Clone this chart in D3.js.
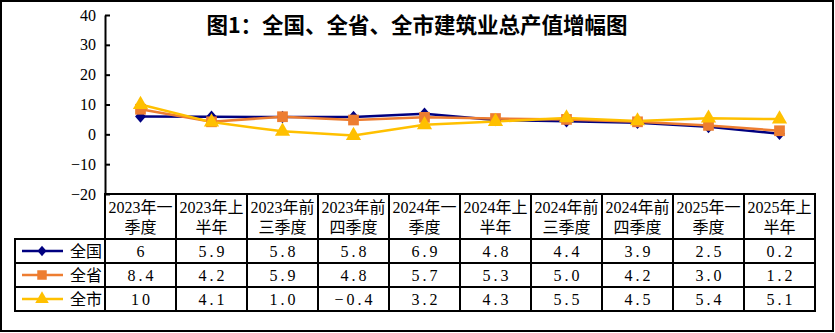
<!DOCTYPE html>
<html><head><meta charset="utf-8">
<script src="https://cdn.jsdelivr.net/npm/d3@7"></script>
<style>
html,body{margin:0;padding:0;background:#fff;}
svg{display:block;}
</style></head>
<body>
<svg id="chart" width="835" height="333"></svg>
<script>
const categories = ["2023年一季度","2023年上半年","2023年前三季度","2023年前四季度","2024年一季度","2024年上半年","2024年前三季度","2024年前四季度","2025年一季度","2025年上半年"];
const headerLine1 = ["2023年一","2023年上","2023年前","2023年前","2024年一","2024年上","2024年前","2024年前","2025年一","2025年上"];
const headerLine2 = ["季度","半年","三季度","四季度","季度","半年","三季度","四季度","季度","半年"];
const seriesNames = ["全国","全省","全市"];
const quanguo = [6, 5.9, 5.8, 5.8, 6.9, 4.8, 4.4, 3.9, 2.5, 0.2];
const quansheng = [8.4, 4.2, 5.9, 4.8, 5.7, 5.3, 5.0, 4.2, 3.0, 1.2];
const quanshi = [10, 4.1, 1.0, -0.4, 3.2, 4.3, 5.5, 4.5, 5.4, 5.1];
const tableText = [
  ["6","5.9","5.8","5.8","6.9","4.8","4.4","3.9","2.5","0.2"],
  ["8.4","4.2","5.9","4.8","5.7","5.3","5.0","4.2","3.0","1.2"],
  ["10","4.1","1.0","-0.4","3.2","4.3","5.5","4.5","5.4","5.1"]
];
const yTicks = [-20, -10, 0, 10, 20, 30, 40];
const title = "图1：全国、全省、全市建筑业总产值增幅图";

const colors = ["#000080", "#ED7D31", "#FFC000"];
// custom diamond, close to a rotated square (slightly taller than wide)
const diamond = {
  draw(ctx, size) {
    const w = Math.sqrt(size) * 0.52, h = w * 1.15;
    ctx.moveTo(0, -h); ctx.lineTo(w, 0); ctx.lineTo(0, h); ctx.lineTo(-w, 0); ctx.closePath();
  }
};
const symbols = [diamond, d3.symbolSquare, d3.symbolTriangle];
const series = [quanguo, quansheng, quanshi];

const svg = d3.select("#chart");
const FONT = "'Liberation Serif','Noto Sans CJK SC',serif";

// outer border
svg.append("rect").attr("x",1).attr("y",1).attr("width",832).attr("height",330)
  .attr("fill","#fff").attr("stroke","#000").attr("stroke-width",2);

const plotLeft = 105, plotRight = 815, plotTop = 15, plotBottom = 194;
const x = d3.scaleBand().domain(categories).range([plotLeft, plotRight]);
const y = d3.scaleLinear().domain([-20, 40]).range([plotBottom, plotTop]);

// title
svg.append("text").attr("x", 417).attr("y", 33).attr("text-anchor","middle")
  .attr("font-family","'Noto Sans CJK SC',sans-serif").attr("font-weight","bold")
  .attr("font-size", 21.5).attr("fill","#000").text(title);

// y axis
const yAxis = d3.axisLeft(y).tickValues(yTicks).tickSizeInner(-5).tickSizeOuter(0).tickPadding(9);
const ga = svg.append("g").attr("transform",`translate(${plotLeft},0)`).call(yAxis);
ga.select(".domain").attr("stroke","#000").attr("stroke-width",2);
ga.selectAll(".tick line").attr("stroke","#000").attr("stroke-width",2);
ga.selectAll(".tick text").attr("font-family","'Liberation Serif',serif").attr("font-size",16).attr("fill","#000");

// lines + markers
const line = d3.line().x((d,i)=>x(categories[i]) + x.bandwidth()/2).y(d=>y(d));
const markerSize = [110, 115, 100];
series.forEach((vals, si) => {
  svg.append("path").datum(vals).attr("d", line).attr("fill","none")
    .attr("stroke", colors[si]).attr("stroke-width", 2.5).attr("stroke-linejoin","round");
});
series.forEach((vals, si) => {
  svg.append("g").selectAll("path").data(vals).join("path")
    .attr("transform",(d,i)=>`translate(${x(categories[i]) + x.bandwidth()/2},${y(d)})`)
    .attr("d", d3.symbol().type(symbols[si]).size(markerSize[si]))
    .attr("fill", colors[si]);
});

// table
const headerTop = 194, headerBottom = 239, rowH = 24, legendLeft = 15;
const rowsBottom = headerBottom + rowH * 3;
const tg = svg.append("g");
tg.append("line").attr("x1",plotLeft).attr("x2",plotRight).attr("y1",headerTop).attr("y2",headerTop);
for (let r = 0; r <= 3; r++) {
  const yy = headerBottom + r*rowH;
  tg.append("line").attr("x1",legendLeft).attr("x2",plotRight).attr("y1",yy).attr("y2",yy);
}
tg.append("line").attr("x1",legendLeft).attr("x2",legendLeft).attr("y1",headerBottom).attr("y2",rowsBottom);
categories.forEach((c,i)=>{
  const xx = x(c);
  tg.append("line").attr("x1",xx).attr("x2",xx).attr("y1",headerTop).attr("y2",rowsBottom);
});
tg.append("line").attr("x1",plotRight).attr("x2",plotRight).attr("y1",headerTop).attr("y2",rowsBottom);
tg.selectAll("line").attr("stroke","#000").attr("stroke-width",2).attr("stroke-linecap","square");

// header text
categories.forEach((c,i)=>{
  const cx = x(c) + x.bandwidth()/2;
  svg.append("text").attr("x",cx).attr("y",213).attr("text-anchor","middle")
    .attr("font-family",FONT).attr("font-size",16).attr("fill","#000").text(headerLine1[i]);
  svg.append("text").attr("x",cx).attr("y",233).attr("text-anchor","middle")
    .attr("font-family",FONT).attr("font-size",16).attr("fill","#000").text(headerLine2[i]);
});

// data rows
tableText.forEach((row, r) => {
  const cy = headerBottom + r*rowH + rowH/2;
  row.forEach((t, i) => {
    svg.append("text").attr("x", x(categories[i]) + x.bandwidth()/2 + 1.5).attr("y", cy + 6)
      .attr("text-anchor","middle").attr("font-family","'Liberation Serif',serif")
      .attr("font-size",16).attr("letter-spacing",3).attr("fill","#000").text(t.replace("-","−"));
  });
  // legend
  svg.append("line").attr("x1",22).attr("x2",63).attr("y1",cy).attr("y2",cy)
    .attr("stroke",colors[r]).attr("stroke-width",2.5);
  svg.append("path").attr("transform",`translate(42,${cy})`)
    .attr("d", d3.symbol().type(symbols[r]).size([75,90,80][r])).attr("fill",colors[r]);
  svg.append("text").attr("x",70).attr("y",cy+6).attr("font-family","'Noto Sans CJK SC',sans-serif")
    .attr("font-size",16).attr("fill","#000").text(seriesNames[r]);
});
</script>
</body></html>
